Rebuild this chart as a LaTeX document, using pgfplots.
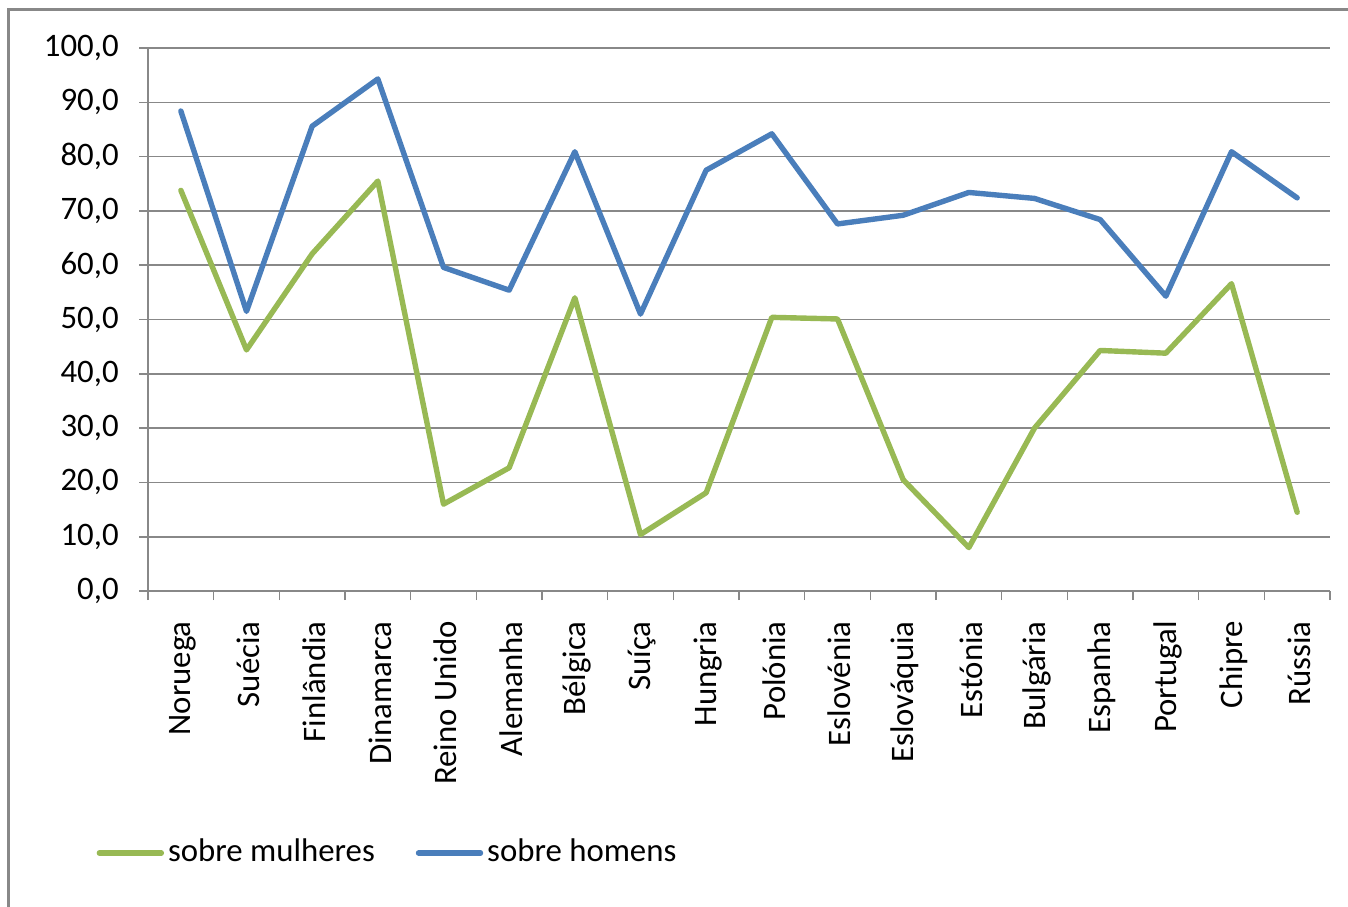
\documentclass[border=0pt]{standalone}
\usepackage{fontspec}
\setmainfont{Carlito}
\usepackage{pgfplots}
\pgfplotsset{compat=1.18}
\definecolor{blueline}{HTML}{4A7EBB}
\definecolor{greenline}{HTML}{98B954}
\definecolor{gridgray}{HTML}{888888}
\begin{document}
\fontsize{16.4}{19.5}\selectfont
\begin{tikzpicture}
\path[use as bounding box] (0,0) rectangle (674pt,-453pt);
\draw[color=gridgray, line width=1.3pt] (4.35pt,-4.75pt) rectangle (720pt,-500pt);
\begin{axis}[
  at={(74pt,-295.5pt)}, anchor=south west,
  scale only axis, width=591pt, height=271.5pt,
  xmin=-0.5, xmax=17.5, ymin=0, ymax=100,
  axis x line*=bottom, axis y line*=left,
  axis line style={gridgray, line width=0.8pt},
  ytick={0,10,...,100},
  ymajorgrids, grid style={gridgray, line width=0.8pt},
  xtick={-0.5,0.5,...,17.5},
  xticklabels={},
  extra x ticks={0,...,17},
  extra x tick labels={Noruega,Suécia,Finlândia,Dinamarca,Reino Unido,Alemanha,Bélgica,Suíça,Hungria,Polónia,Eslovénia,Eslováquia,Estónia,Bulgária,Espanha,Portugal,Chipre,Rússia},
  extra x tick style={tick style={draw=none}, grid=none,
    xticklabel style={yshift=-5pt, xshift=1pt, rotate=90, anchor=east}},
  tick align=outside,
  major tick length=4.5pt,
  tick style={gridgray, line width=0.8pt},
  yticklabel style={xshift=-4.5pt},
  /pgf/number format/.cd, fixed, fixed zerofill, precision=1, use comma, assume math mode=true,
  /pgfplots/.cd,
  legend columns=2,
  legend style={draw=none, fill=none, at={(0.2035,-0.4825)}, anchor=center,
    /tikz/every even column/.append style={column sep=18.5pt}},
  legend image code/.code={\draw[#1] (0pt,0pt) -- (31pt,0pt);},
  every axis plot/.append style={line width=2.7pt, line join=round, line cap=round},
]
\addplot[greenline] coordinates {
(0,73.8) (1,44.4) (2,62.1) (3,75.5) (4,16.0) (5,22.7) (6,54.0) (7,10.4) (8,18.1)
(9,50.4) (10,50.1) (11,20.5) (12,8.0) (13,30.0) (14,44.3) (15,43.8) (16,56.6) (17,14.5)};
\addlegendentry{sobre mulheres}
\addplot[blueline] coordinates {
(0,88.4) (1,51.5) (2,85.6) (3,94.3) (4,59.6) (5,55.4) (6,80.9) (7,51.0) (8,77.5)
(9,84.2) (10,67.6) (11,69.2) (12,73.4) (13,72.3) (14,68.4) (15,54.3) (16,80.9) (17,72.4)};
\addlegendentry{sobre homens}
\end{axis}
\end{tikzpicture}
\end{document}
